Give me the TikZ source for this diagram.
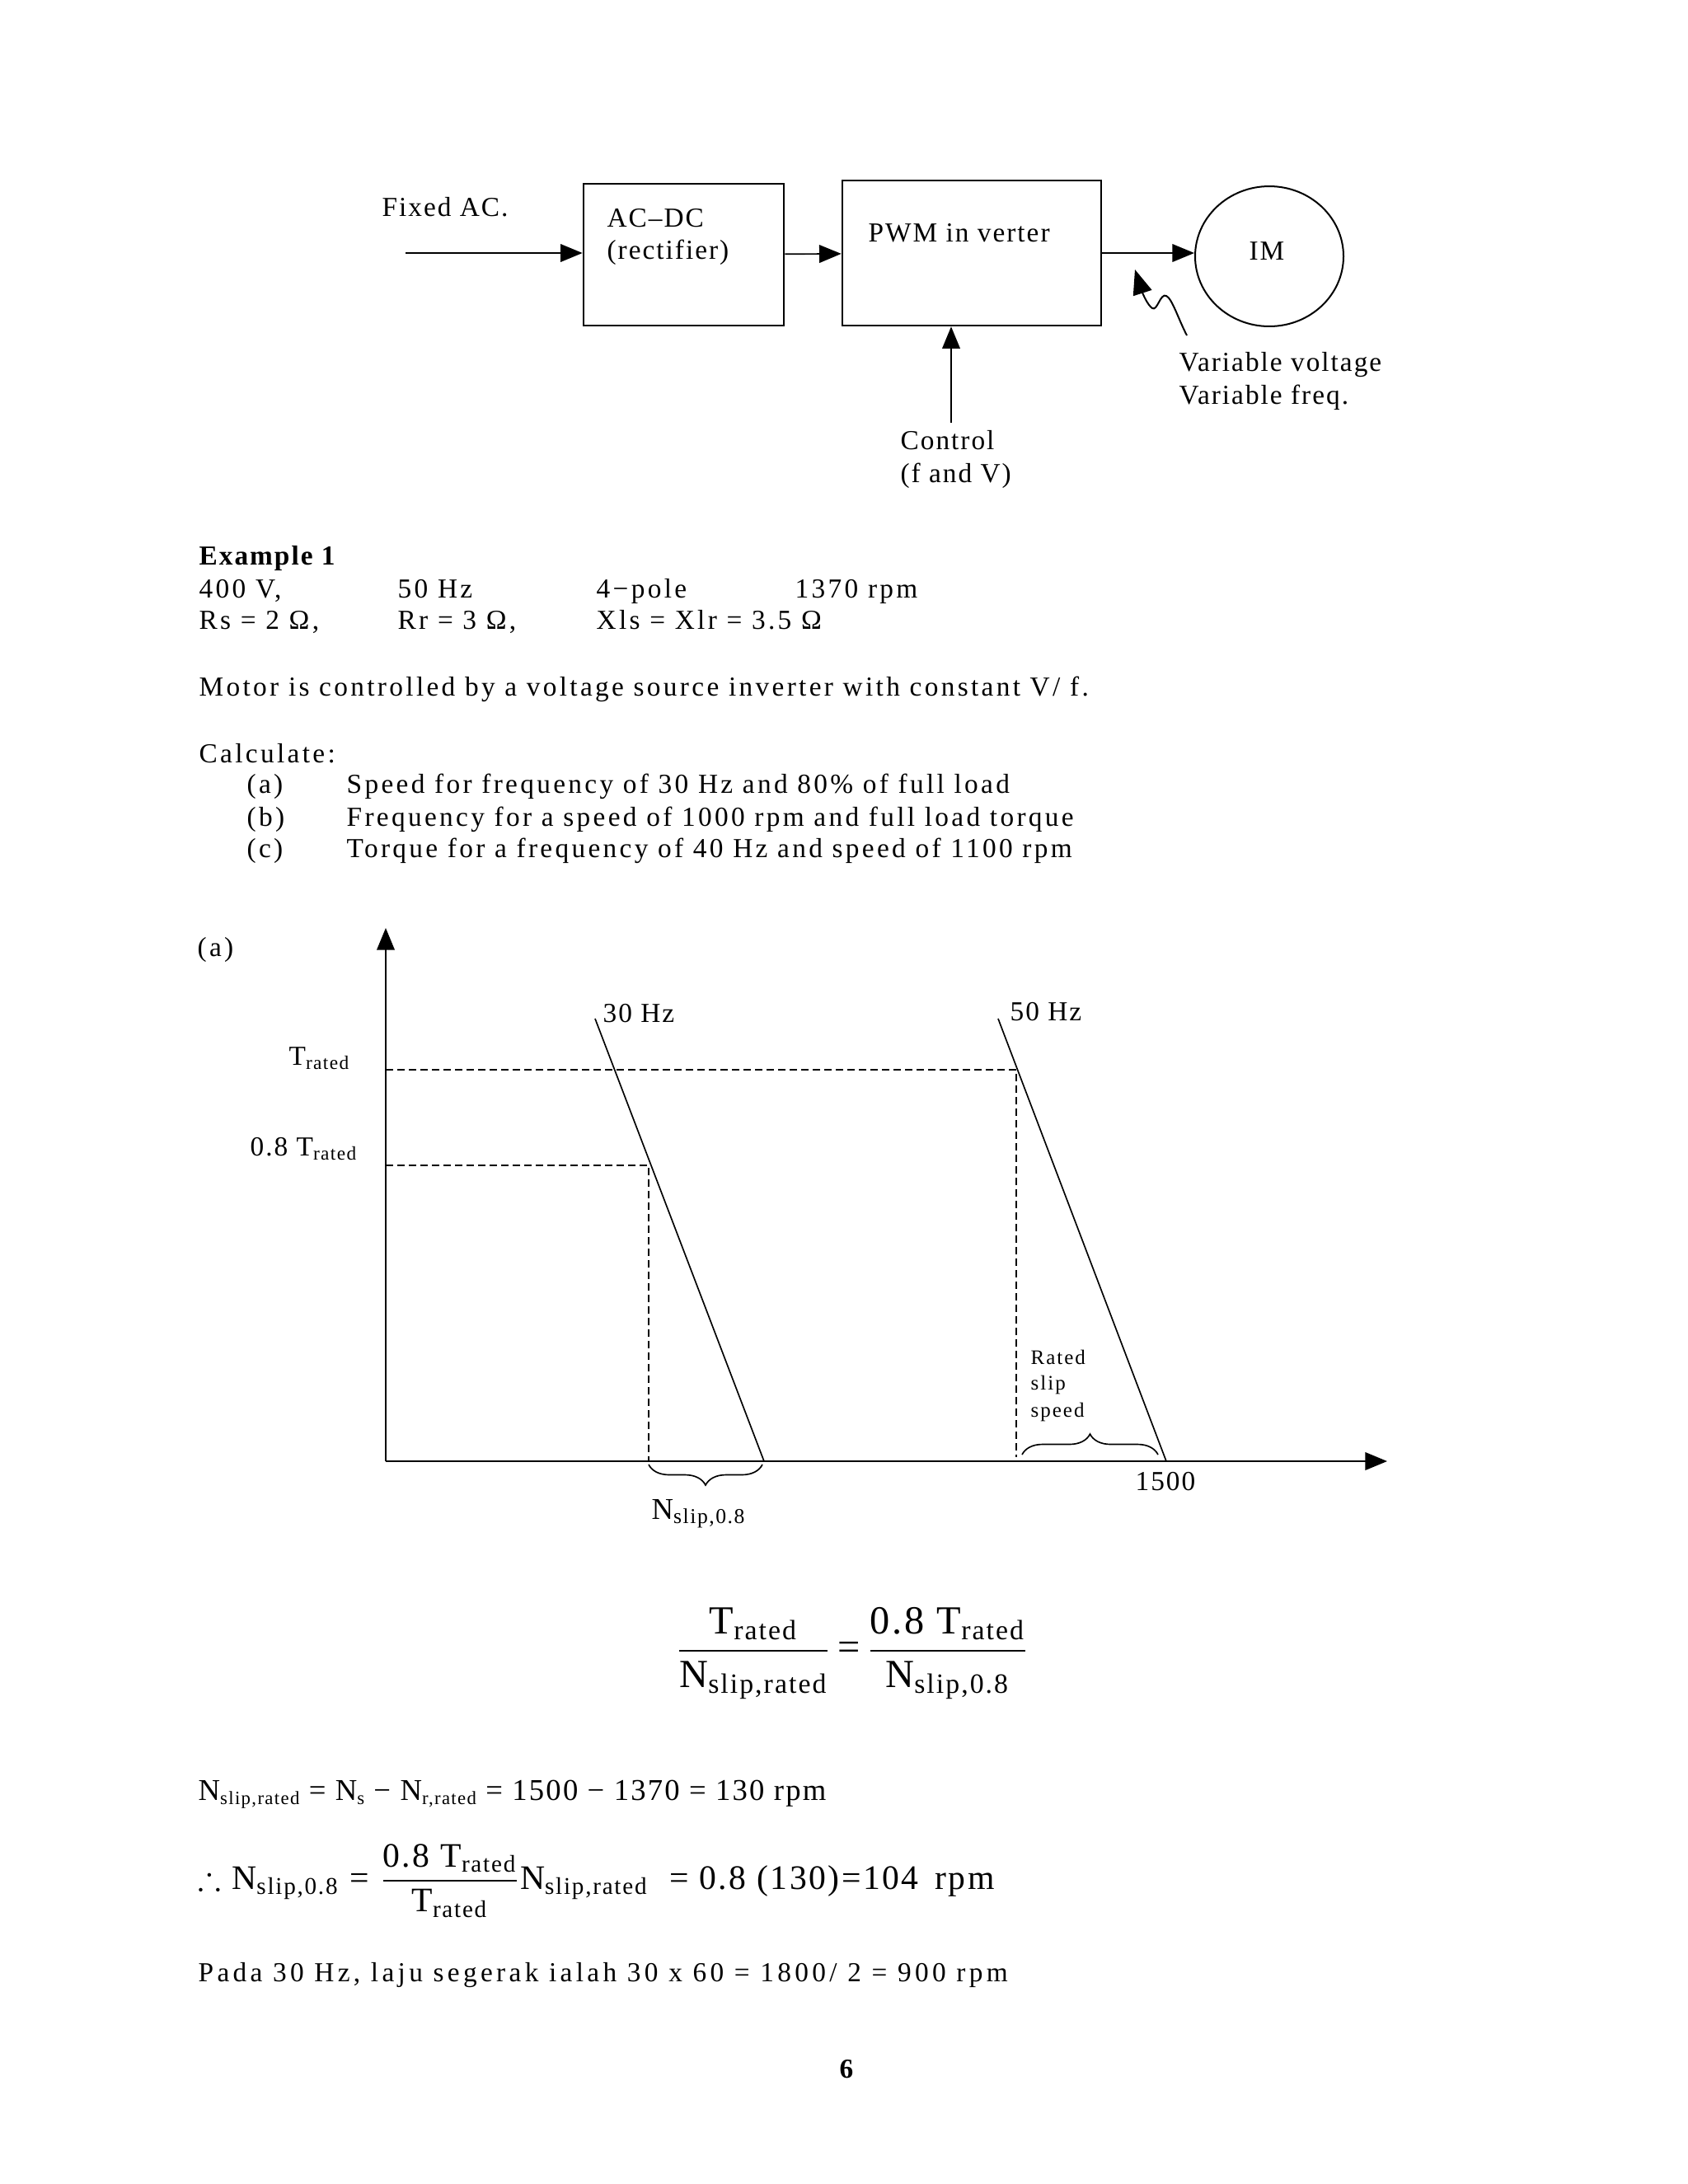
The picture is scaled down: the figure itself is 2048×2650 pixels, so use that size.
\documentclass[tikz,border=0pt]{standalone}
\usepackage{amssymb}
\usepackage{fontspec}
\setmainfont[LetterSpace=6]{Liberation Serif}
\usetikzlibrary{arrows.meta,decorations.pathreplacing,shapes.geometric}
\tikzset{
  txt/.style={inner sep=0pt, anchor=base west, font=\fontsize{10}{12}\selectfont},
  body/.style={inner sep=0pt, anchor=base west, font=\fontsize{10}{12}\selectfont\addfontfeatures{LetterSpace=10}},
  small/.style={inner sep=0pt, anchor=base west, font=\fontsize{7.5}{9}\selectfont\addfontfeatures{LetterSpace=8}},
  bigeq/.style={inner sep=0pt, font=\fontsize{14.5}{16}\selectfont},
  box/.style={draw, line width=0.8pt, inner sep=0pt},
  arr/.style={line width=0.5pt, -{Triangle[length=8pt,width=6.5pt]}},
  ln/.style={line width=0.5pt},
  dsh/.style={line width=0.5pt, dash pattern=on 2.6pt off 1.6pt},
  brc/.style={line width=0.5pt, decorate, decoration={brace, amplitude=7.5pt}}
}
\newcommand{\fr}[2]{$\displaystyle\frac{\mbox{#1}}{\mbox{#2}}$}
\newcommand{\sbs}[1]{\raisebox{-0.35ex}{\scalebox{0.62}{#1}}}
\begin{document}
\begin{tikzpicture}[x=0.010542cm, y=-0.010542cm]
\useasboundingbox (0,0) rectangle (2048,2650);
% ---------- block diagram ----------
\node[box, minimum width=2.562cm, minimum height=1.813cm] (acdc) at (829.5,309) {};
\node[box, minimum width=3.310cm, minimum height=1.855cm] (pwm) at (1179,307) {};
\node[draw, line width=0.6pt, ellipse, inner sep=0pt, minimum width=1.898cm, minimum height=1.792cm] (im) at (1540,311) {};
\node[txt] (fixac) at (463,262) {Fixed AC.};
\node[txt] (acdct1) at (736,275) {AC–DC};
\node[txt] (acdct2) at (736,314) {(rectifier)};
\node[txt] (pwmt) at (1053,293) {PWM in verter};
\node[txt, anchor=base] (imt) at (1537,315) {IM};
\node[txt] (ctlt1) at (1092,545) {Control};
\node[txt] (ctlt2) at (1092,585) {(f and V)};
\node[txt] (vv1) at (1430,450) {Variable voltage};
\node[txt] (vv2) at (1430,490) {Variable freq.};
\coordinate (fixin) at (492,307);
\coordinate (ctl) at (1154,513);
\draw[arr] (fixin) -- (acdc.west |- fixin);
\draw[arr] (acdc) -- (pwm);
\draw[arr] (pwm.east |- fixin) -- (im.west |- fixin);
\draw[arr] (ctl) -- (ctl |- pwm.south);
\coordinate (sq0) at (1440,407);
\coordinate (sq1) at (1415,359);
\coordinate (sq2) at (1398,374);
\coordinate (sqt) at (1377,327);
\draw[line width=0.6pt, -{Triangle[length=9pt,width=7pt]}] (sq0) .. controls (1430,388) and (1422,362) .. (sq1) .. controls (1408,355) and (1404,378) .. (sq2) .. controls (1392,370) and (1386,355) .. (sqt);
% ---------- example text ----------
\node[body, font=\fontsize{10}{12}\selectfont\bfseries] (ex) at (241,685) {Example 1};
\node[body] (l1a) at (241,725) {400 V,};
\node[body] (l1b) at (482,725) {50 Hz};
\node[body] (l1c) at (723,725) {4−pole};
\node[body] (l1d) at (964,725) {1370 rpm};
\node[body] (l2a) at (241,763) {Rs = 2 Ω,};
\node[body] (l2b) at (482,763) {Rr = 3 Ω,};
\node[body] (l2c) at (723,763) {Xls = Xlr = 3.5 Ω};
\node[body] (motor) at (241,844) {Motor is controlled by a voltage source inverter with constant V/ f.};
\node[body] (calc) at (241,925) {Calculate:};
\node[body] (qa) at (299,962) {(a)};
\node[body] (qat) at (420,962) {Speed for frequency of 30 Hz and 80\% of full load};
\node[body] (qb) at (299,1002) {(b)};
\node[body] (qbt) at (420,1002) {Frequency for a speed of 1000 rpm and full load torque};
\node[body] (qc) at (299,1040) {(c)};
\node[body] (qct) at (420,1040) {Torque for a frequency of 40 Hz and speed of 1100 rpm};
% ---------- graph ----------
\node[body] (pa) at (239,1160) {(a)};
\coordinate (O) at (468,1773);
\coordinate (ytip) at (468,1126);
\coordinate (xtip) at (1683,1773);
\draw[arr] (O) -- (ytip);
\draw[arr] (O) -- (xtip);
\coordinate (tr0) at (468,1298);
\coordinate (tr1) at (1233,1298);
\coordinate (tr2) at (1233,1768);
\coordinate (te0) at (468,1414);
\coordinate (te1) at (787,1414);
\coordinate (te2) at (787,1773);
\draw[dsh] (tr0) -- (tr1) -- (tr2);
\draw[dsh] (te0) -- (te1) -- (te2);
\coordinate (h30a) at (722,1236);
\coordinate (h30b) at (927,1773);
\coordinate (h50a) at (1211,1236);
\coordinate (h50b) at (1415,1773);
\draw[ln] (h30a) -- (h30b);
\draw[ln] (h50a) -- (h50b);
\node[txt] (l30) at (731,1240) {30 Hz};
\node[txt] (l50) at (1225,1238) {50 Hz};
\node[txt] (ltr) at (350,1292) {T\textsubscript{rated}};
\node[txt] (ltr8) at (303,1402) {0.8 T\textsubscript{rated}};
\node[small] (rs1) at (1250,1655) {Rated};
\node[small] (rs2) at (1250,1686) {slip};
\node[small] (rs3) at (1250,1719) {speed};
\coordinate (b1a) at (925,1777);
\coordinate (b1b) at (787,1777);
\draw[brc] (b1a) -- (b1b);
\coordinate (b2a) at (1240,1765);
\coordinate (b2b) at (1405,1765);
\draw[brc] (b2a) -- (b2b);
\node[txt, font=\fontsize{11}{13}\selectfont] (nsl) at (790,1843) {N\textsubscript{slip,0.8}};
\node[txt] (l1500) at (1377,1808) {1500};
% ---------- equations ----------
\node[bigeq] (eq1) at (1034,2006) {\fr{T\textsubscript{rated}}{N\textsubscript{slip,rated}}\,=\,\fr{0.8 T\textsubscript{rated}}{N\textsubscript{slip,0.8}}};
\node[txt, font=\fontsize{11}{13}\selectfont] (eq2) at (240,2184) {N\sbs{slip,rated} = N\sbs{s} − N\sbs{r,rated} = 1500 − 1370 = 130 rpm};
\node[bigeq, font=\fontsize{12.5}{15}\selectfont, anchor=west] (eq3) at (240,2282) {$\therefore$ N\textsubscript{slip,0.8} = \fr{0.8 T\textsubscript{rated}}{T\textsubscript{rated}}N\textsubscript{slip,rated} \ = 0.8 (130)=104 \,rpm};
\node[body, font=\fontsize{10}{12}\selectfont\addfontfeatures{LetterSpace=13}] (pada) at (240,2404) {Pada 30 Hz, laju segerak ialah 30 x 60 = 1800/ 2 = 900 rpm};
\node[txt, anchor=base, font=\fontsize{10}{12}\selectfont\bfseries] (pg) at (1027,2521) {6};
\end{tikzpicture}
\end{document}
